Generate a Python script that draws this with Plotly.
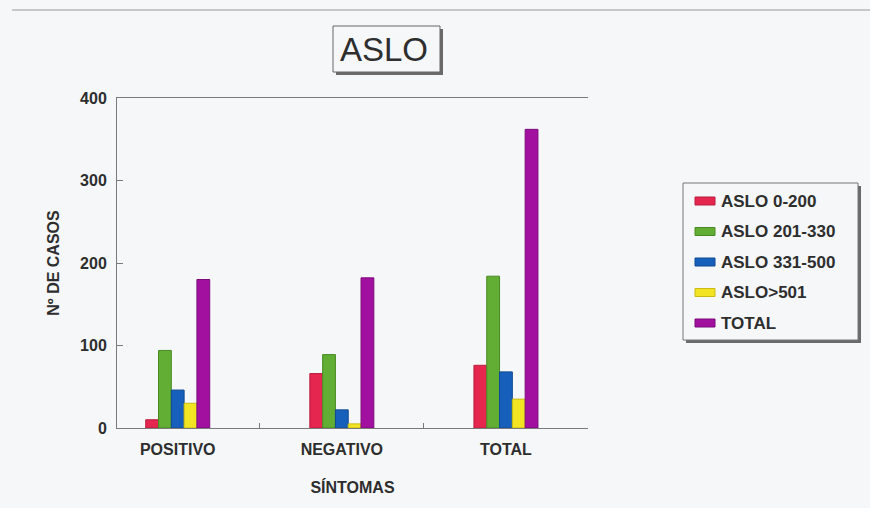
import plotly.graph_objects as go

# Data: ASLO titre groups by symptom status
categories = ["POSITIVO", "NEGATIVO", "TOTAL"]
series_names = ["ASLO 0-200", "ASLO 201-330", "ASLO 331-500", "ASLO>501", "TOTAL"]
aslo_0_200 = [10, 66, 76]
aslo_201_330 = [94, 89, 184]
aslo_331_500 = [46, 22, 68]
aslo_501 = [30, 5, 35]
aslo_total = [180, 182, 362]
y_ticks = [0, 100, 200, 300, 400]

series_values = [aslo_0_200, aslo_201_330, aslo_331_500, aslo_501, aslo_total]
fills = ["#e5264f", "#62ad33", "#1660bb", "#f3e423", "#a2109f"]
edges = ["#b81d3e", "#4a8a25", "#0f4a92", "#c9bb10", "#7d0b7b"]

W, H = 870, 508
L, R, T, B = 117, 588, 98, 428  # plot area in pixels
BG = "#f5f7f9"
INK = "#2e2e2e"
FONT = "Liberation Sans, Arial, sans-serif"


def px(x):
    return (x - L) / (R - L)


def py(y):
    return (B - y) / (B - T)


fig = go.Figure()
for name, vals, fc, ec in zip(series_names, series_values, fills, edges):
    fig.add_trace(go.Bar(
        x=categories, y=vals, name=name,
        marker=dict(color=fc, line=dict(color=ec, width=1)),
        showlegend=False,
    ))

shapes = []
annotations = []

# thin rule across the top of the page
shapes.append(dict(type="line", xref="paper", yref="paper",
                   x0=px(12), x1=px(870), y0=py(10), y1=py(10),
                   line=dict(color="#9a9a9a", width=1)))

# boxed title with drop shadow
shapes.append(dict(type="rect", xref="paper", yref="paper",
                   x0=px(336), x1=px(443), y0=py(75), y1=py(29),
                   fillcolor="#6a6a6a", line=dict(width=0), layer="below"))
shapes.append(dict(type="rect", xref="paper", yref="paper",
                   x0=px(333), x1=px(440), y0=py(72), y1=py(26),
                   fillcolor=BG, line=dict(color="#666666", width=1)))
annotations.append(dict(text="ASLO", xref="paper", yref="paper",
                        x=px(384), y=py(50), xanchor="center", yanchor="middle",
                        showarrow=False, font=dict(family=FONT, size=33, color=INK)))

# legend panel with drop shadow
shapes.append(dict(type="rect", xref="paper", yref="paper",
                   x0=px(686), x1=px(861), y0=py(343), y1=py(186),
                   fillcolor="#6a6a6a", line=dict(width=0)))
shapes.append(dict(type="rect", xref="paper", yref="paper",
                   x0=px(683), x1=px(858), y0=py(340), y1=py(183),
                   fillcolor=BG, line=dict(color="#777777", width=1)))
for i, (name, fc, ec) in enumerate(zip(series_names, fills, edges)):
    yc = 201 + 30.5 * i
    shapes.append(dict(type="rect", xref="paper", yref="paper",
                       x0=px(695), x1=px(715), y0=py(yc + 4), y1=py(yc - 4),
                       fillcolor=fc, line=dict(color=ec, width=1)))
    annotations.append(dict(text="<b>" + name + "</b>", xref="paper", yref="paper",
                            x=px(719), y=py(yc), xanchor="left", yanchor="middle",
                            showarrow=False,
                            font=dict(family=FONT, size=17, color=INK)))

fig.update_layout(
    width=W, height=H,
    margin=dict(l=L, r=W - R, t=T, b=H - B),
    paper_bgcolor=BG, plot_bgcolor=BG,
    barmode="group", bargap=0.61, bargroupgap=0,
    shapes=shapes, annotations=annotations,
    font=dict(family=FONT, color=INK),
    xaxis=dict(
        type="category", range=[-0.37, 2.5],
        tickvals=categories, ticktext=["<b>" + c + "</b>" for c in categories],
        showline=True, linecolor="#7a7a7a", linewidth=1, mirror=True,
        ticks="inside", tickson="boundaries", ticklen=5, tickcolor="#7a7a7a",
        showgrid=False, tickfont=dict(size=16, color=INK), ticklabelstandoff=7,
        title=dict(text="<b>SÍNTOMAS</b>", font=dict(size=16, color=INK), standoff=24),
    ),
    yaxis=dict(
        range=[0, 400], tickvals=y_ticks,
        ticktext=["<b>%d</b>" % v for v in y_ticks],
        showline=True, linecolor="#7a7a7a", linewidth=1,
        ticks="inside", ticklen=6, tickcolor="#7a7a7a",
        showgrid=False, zeroline=False,
        tickfont=dict(size=16, color=INK), ticklabelstandoff=6,
        title=dict(text="<b>Nº DE CASOS</b>", font=dict(size=16, color=INK), standoff=16),
    ),
)

fig.write_html("out.html")
